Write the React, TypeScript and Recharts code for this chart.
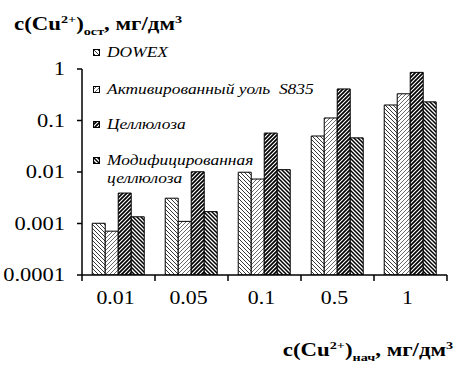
import { Bar, BarChart, Legend, XAxis, YAxis } from "recharts";

const categories = ["0.01", "0.05", "0.1", "0.5", "1"];
const dowex = [0.00101, 0.0031, 0.0099, 0.05, 0.2];
const activatedCarbon = [0.00071, 0.0011, 0.0073, 0.112, 0.33];
const cellulose = [0.0039, 0.0101, 0.057, 0.41, 0.86];
const modifiedCellulose = [0.00135, 0.0017, 0.0111, 0.046, 0.23];
const yTicks = [0.0001, 0.001, 0.01, 0.1, 1];
const seriesNames = [
  "DOWEX",
  "Активированный уоль  S835",
  "Целлюлоза",
  "Модифицированная\nцеллюлоза",
];

const data = categories.map((c, i) => ({
  c,
  dowex: dowex[i],
  activated: activatedCarbon[i],
  cellulose: cellulose[i],
  modified: modifiedCellulose[i],
}));

const SERIES = [
  { key: "dowex", pattern: "pDowex" },
  { key: "activated", pattern: "pAct" },
  { key: "cellulose", pattern: "pCell" },
  { key: "modified", pattern: "pMod" },
];

const FONT = '"Liberation Serif", "Times New Roman", serif';
const DOWN = "M-1,3 l2,2 M0,0 l4,4 M3,-1 l2,2";
const UP = "M-1,1 l2,-2 M0,4 l4,-4 M3,5 l2,-2";

function Patterns() {
  return (
    <defs>
      <pattern id="pDowex" patternUnits="userSpaceOnUse" width={4} height={4}>
        <rect width={4} height={4} fill="#fff" />
        <path d={DOWN} stroke="#222" strokeWidth={0.9} />
      </pattern>
      <pattern id="pAct" patternUnits="userSpaceOnUse" width={4} height={4}>
        <rect width={4} height={4} fill="#fff" />
        <path d={UP} stroke="#555" strokeWidth={0.9} />
      </pattern>
      <pattern id="pCell" patternUnits="userSpaceOnUse" width={4} height={4}>
        <rect width={4} height={4} fill="#fff" />
        <path d={UP} stroke="#000" strokeWidth={1.7} />
      </pattern>
      <pattern id="pMod" patternUnits="userSpaceOnUse" width={4} height={4}>
        <rect width={4} height={4} fill="#fff" />
        <path d={DOWN} stroke="#000" strokeWidth={1.5} />
      </pattern>
    </defs>
  );
}

function XTick(props: any) {
  const { x, y, payload, index } = props;
  const off = payload?.offset ?? 36.5;
  return (
    <g>
      <line x1={x - off} x2={x - off} y1={y} y2={y + 6} stroke="#000" strokeWidth={1.5} />
      {index === categories.length - 1 && (
        <line x1={x + off} x2={x + off} y1={y} y2={y + 6} stroke="#000" strokeWidth={1.5} />
      )}
      <text
        transform={`translate(${x - 3},${y + 29}) scale(1.15,1)`}
        textAnchor="middle"
        fontSize={19}
        fontFamily={FONT}
        fill="#000"
      >
        {payload.value}
      </text>
    </g>
  );
}

function YTick(props: any) {
  const { x, y, payload } = props;
  return (
    <text
      transform={`translate(${x},${y}) scale(1.25,1)`}
      textAnchor="end"
      dy="0.35em"
      fontSize={18}
      fontFamily={FONT}
      fill="#000"
    >
      {String(payload.value)}
    </text>
  );
}

const itemCenters = [52, 89, 124, 160];

function LegendBox() {
  return (
    <div style={{ position: "relative", width: 454, height: 200 }}>
      {SERIES.map((s, i) => {
        const lines = seriesNames[i].split("\n");
        return (
          <div key={s.key}>
            {lines.map((line, j) => (
              <div
                key={line}
                style={{
                  position: "absolute",
                  left: 93,
                  top: itemCenters[i] - 8 + j * 18,
                  height: 16,
                  display: "flex",
                  alignItems: "center",
                  whiteSpace: "pre",
                }}
              >
                <svg width={7} height={7} style={{ visibility: j === 0 ? "visible" : "hidden" }}>
                  <rect x={0.5} y={0.5} width={6} height={6} fill={`url(#${s.pattern})`} stroke="#000" strokeWidth={1} />
                </svg>
                <span
                  style={{
                    marginLeft: 7,
                    fontFamily: FONT,
                    fontStyle: "italic",
                    fontSize: 15,
                    lineHeight: "16px",
                    color: "#000",
                    display: "inline-block",
                    transform: "scaleX(1.16)",
                    transformOrigin: "left center",
                  }}
                >
                  {line}
                </span>
              </div>
            ))}
          </div>
        );
      })}
    </div>
  );
}

const small = { fontSize: "0.62em", lineHeight: 0 } as const;

function AxisTitle({ sub }: { sub: string }) {
  return (
    <>
      c(Cu<span style={{ ...small, verticalAlign: "super" }}>2+</span>)
      <span style={{ ...small, verticalAlign: "sub" }}>{sub}</span>, мг/дм
      <span style={{ ...small, verticalAlign: "super" }}>3</span>
    </>
  );
}

const titleStyle = {
  position: "absolute",
  fontFamily: FONT,
  fontWeight: "bold",
  fontSize: 18,
  lineHeight: "18px",
  whiteSpace: "nowrap",
  color: "#000",
} as const;

export default function App() {
  return (
    <div style={{ position: "absolute", left: 0, top: 0, width: 454, height: 365, background: "#fff" }}>
      <BarChart
        width={454}
        height={365}
        data={data}
        margin={{ top: 69, right: 7, bottom: 60, left: 0 }}
        barCategoryGap="14%"
        barGap={0}
      >
        <Patterns />
        <XAxis
          dataKey="c"
          axisLine={{ stroke: "#000", strokeWidth: 1.5 }}
          tickLine={false}
          tickSize={0}
          tickMargin={0}
          tick={<XTick />}
          interval={0}
        />
        <YAxis
          type="number"
          scale="log"
          domain={[0.0001, 1]}
          ticks={yTicks}
          allowDataOverflow
          width={82}
          axisLine={{ stroke: "#000", strokeWidth: 1.5 }}
          tickLine={{ stroke: "#000", strokeWidth: 1.5 }}
          tickSize={5}
          tickMargin={12}
          tick={<YTick />}
        />
        <Legend
          layout="vertical"
          align="center"
          verticalAlign="middle"
          wrapperStyle={{ left: 0, top: 0, width: 454, height: 200 }}
          content={<LegendBox />}
        />
        {SERIES.map((s) => (
          <Bar
            key={s.key}
            dataKey={s.key}
            fill={`url(#${s.pattern})`}
            stroke="#000"
            strokeWidth={1}
            isAnimationActive={false}
          />
        ))}
      </BarChart>
      <div style={{ ...titleStyle, left: 14, top: 15, transform: "scaleX(1.27)", transformOrigin: "left top" }}>
        <AxisTitle sub="ост" />
      </div>
      <div style={{ ...titleStyle, right: 1, top: 341, transform: "scaleX(1.27)", transformOrigin: "right top" }}>
        <AxisTitle sub="нач" />
      </div>
    </div>
  );
}
